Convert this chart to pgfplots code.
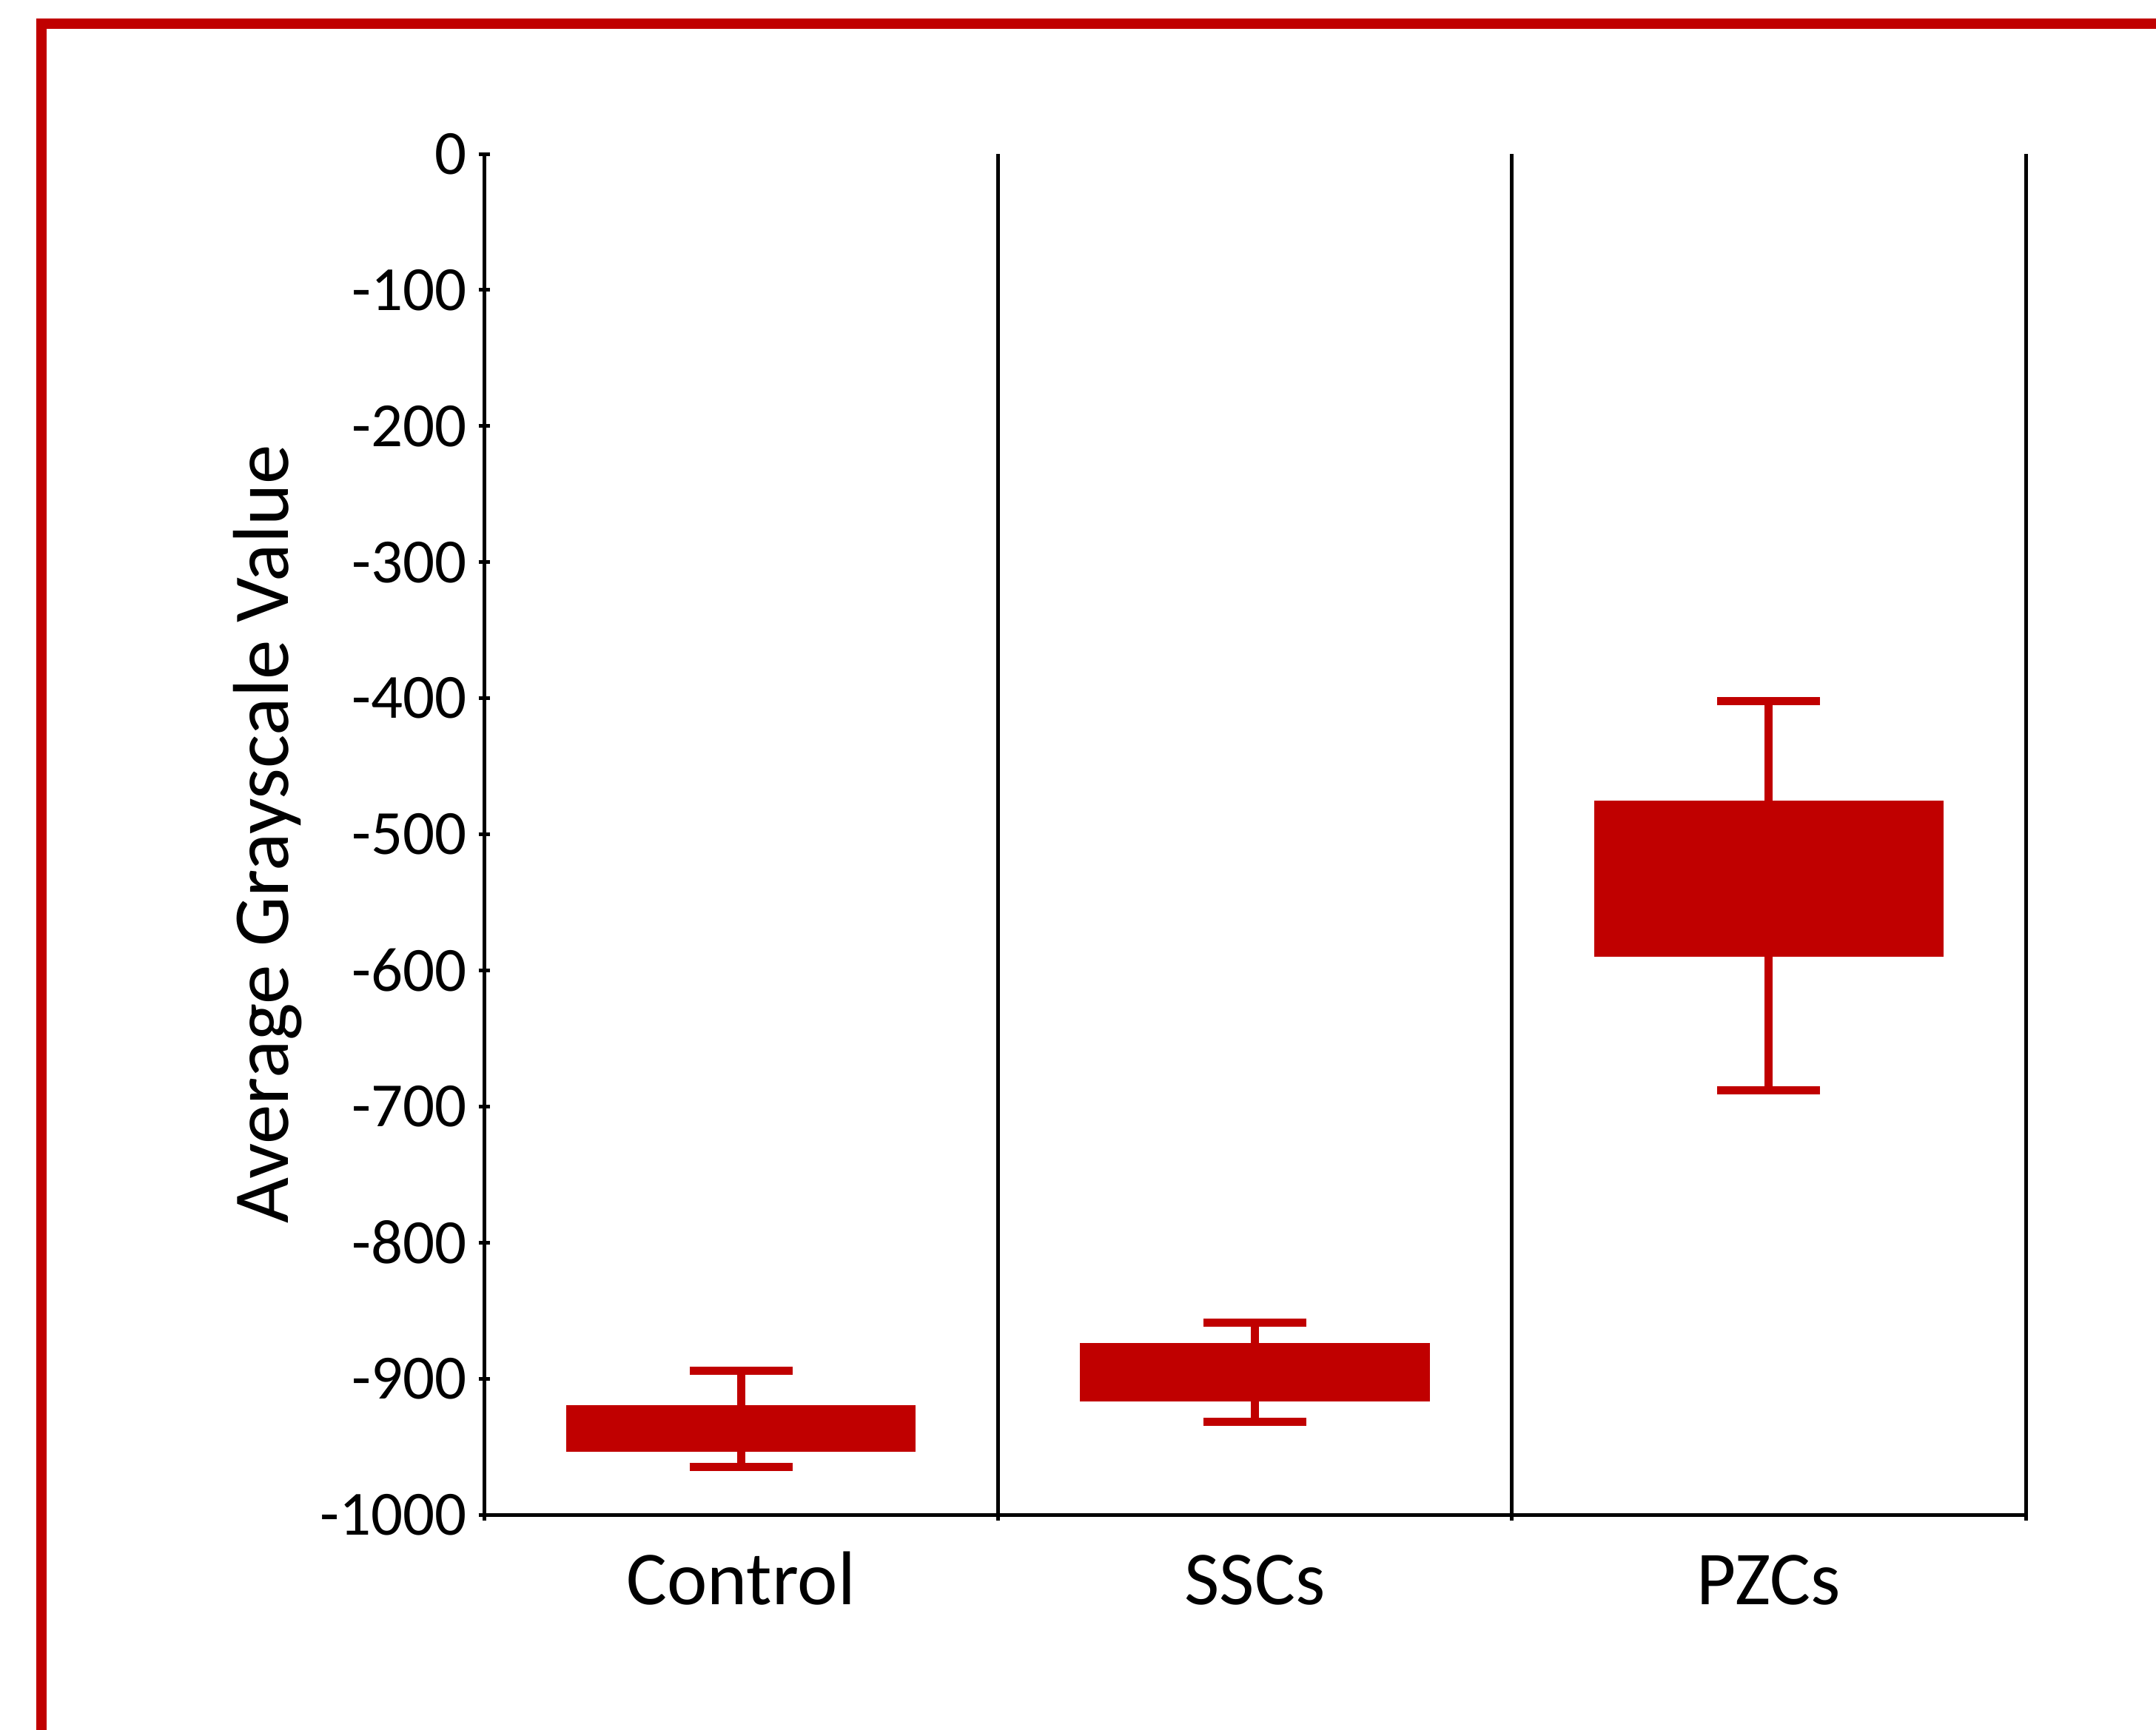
\documentclass[border=0pt]{standalone}
\usepackage{pgfplots}
\pgfplotsset{compat=1.18}
\usepackage{fontspec}
\setmainfont{Carlito}
\definecolor{barred}{RGB}{192,0,0}
\begin{document}
\begin{tikzpicture}
\useasboundingbox (-65.4pt,-29.0pt) rectangle (225.9pt,204.7pt);
\draw[barred, line width=1.4pt, line join=miter] (-59.8pt,-40pt) -- (-59.8pt,201.5pt) -- (240pt,201.5pt);
\begin{axis}[
  at={(0,0)}, anchor=south west,
  scale only axis, width=208.3pt, height=183.9pt,
  xmin=0.5, xmax=3.5, ymin=-1000, ymax=0,
  axis x line=bottom, axis y line=left,
  axis line style={black, line width=0.5pt, -},
  xtick={0.5,1.5,2.5,3.5},
  xticklabels={Control,SSCs,PZCs},
  x tick label as interval,
  xmajorgrids, ymajorgrids=false,
  major grid style={black, line width=0.5pt},
  tick align=center, major tick length=1.5pt,
  tick style={black, line width=0.5pt},
  x tick label style={font=\fontsize{10.3pt}{12pt}\selectfont, anchor=base, inner sep=0pt, yshift=-11.4pt},
  ytick={-1000,-900,-800,-700,-600,-500,-400,-300,-200,-100,0},
  yticklabels={-1000,-900,-800,-700,-600,-500,-400,-300,-200,-100,0},
  y tick label style={font=\fontsize{8.5pt}{10pt}\selectfont, anchor=east, inner sep=0pt, xshift=-1.4pt},
  ylabel={Average Grayscale Value},
  ylabel style={at={(axis description cs:-0.1402,0.5)}, anchor=center, font=\fontsize{10.7pt}{12pt}\selectfont},
]
% boxes
\addplot[fill=barred, draw=none] coordinates {(0.66,-919.5) (1.34,-919.5) (1.34,-953.5) (0.66,-953.5)} -- cycle;
\addplot[fill=barred, draw=none] coordinates {(1.66,-874) (2.34,-874) (2.34,-917) (1.66,-917)} -- cycle;
\addplot[fill=barred, draw=none] coordinates {(2.66,-475) (3.34,-475) (3.34,-590) (2.66,-590)} -- cycle;
% whiskers
\addplot[barred, line width=1.1pt] coordinates {(1,-894) (1,-965)};
\addplot[barred, line width=1.1pt] coordinates {(0.9,-894) (1.1,-894)};
\addplot[barred, line width=1.1pt] coordinates {(0.9,-965) (1.1,-965)};
\addplot[barred, line width=1.1pt] coordinates {(2,-859) (2,-932)};
\addplot[barred, line width=1.1pt] coordinates {(1.9,-859) (2.1,-859)};
\addplot[barred, line width=1.1pt] coordinates {(1.9,-932) (2.1,-932)};
\addplot[barred, line width=1.1pt] coordinates {(3,-402) (3,-688)};
\addplot[barred, line width=1.1pt] coordinates {(2.9,-402) (3.1,-402)};
\addplot[barred, line width=1.1pt] coordinates {(2.9,-688) (3.1,-688)};
\end{axis}
\end{tikzpicture}
\end{document}
